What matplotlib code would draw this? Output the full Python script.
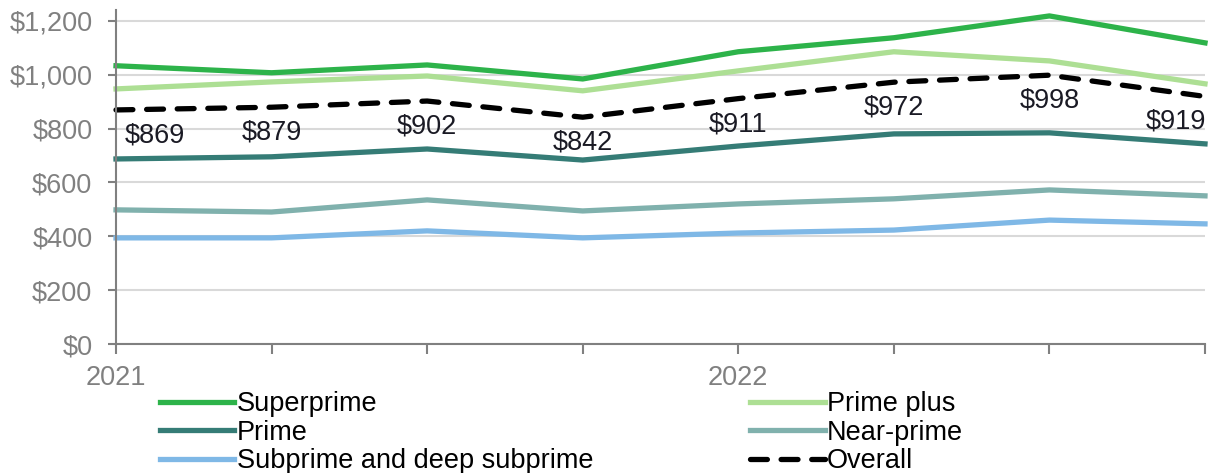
import matplotlib
matplotlib.use("Agg")
import matplotlib.pyplot as plt
import numpy as np

plt.rcParams["font.family"] = ["Liberation Sans", "DejaVu Sans"]

quarters = ["2021", "", "", "", "2022", "", "", ""]
superprime = [1033, 1007, 1036, 984, 1085, 1137, 1218, 1118]
prime_plus = [947, 973, 995, 940, 1014, 1085, 1051, 966]
prime = [687, 695, 724, 683, 735, 780, 784, 743]
near_prime = [498, 490, 535, 494, 520, 539, 572, 550]
subprime = [394, 394, 420, 394, 412, 423, 460, 446]
overall = [869, 879, 902, 842, 911, 972, 998, 919]

GRAY = "#808080"
FS = 19.5

fig = plt.figure(figsize=(12.14, 4.73), dpi=100)
ax = fig.add_axes([116 / 1214, 1 - 344 / 473, (1205 - 116) / 1214, (344 - 10) / 473])

x = np.arange(len(quarters))
lw = 3.8
h_sp, = ax.plot(x, superprime, color="#2db34a", lw=lw, label="Superprime", clip_on=False)
h_pp, = ax.plot(x, prime_plus, color="#addf94", lw=lw, label="Prime plus", clip_on=False)
h_p, = ax.plot(x, prime, color="#357c76", lw=lw, label="Prime", clip_on=False)
h_np, = ax.plot(x, near_prime, color="#80b1ad", lw=lw, label="Near-prime", clip_on=False)
h_sub, = ax.plot(x, subprime, color="#7fb8e6", lw=lw, label="Subprime and deep subprime", clip_on=False)
h_ov, = ax.plot(x, overall, color="black", lw=lw, ls=(0, (3.2, 2.6)), dash_capstyle="round",
                label="Overall", clip_on=False)

for i, v in enumerate(overall):
    ha, dx = "center", 0
    if i == 0:
        ha, dx = "left", 6
    elif i == len(overall) - 1:
        ha, dx = "right", 1
    ax.annotate(f"${v:,}", (x[i], v), xytext=(dx, -9), textcoords="offset points",
                ha=ha, va="top", fontsize=FS, color="#1a1a24")

ax.set_xlim(0, len(quarters) - 1)
ax.set_ylim(0, 1240)
ax.set_yticks(np.arange(0, 1201, 200))
ax.set_yticklabels([f"${v:,}" for v in range(0, 1201, 200)])
ax.set_xticks(x)
ax.set_xticklabels(quarters)
ax.grid(axis="y", color="#d9d9d9", lw=1.5)
ax.set_axisbelow(True)
for s in ["top", "right"]:
    ax.spines[s].set_visible(False)
for s in ["left", "bottom"]:
    ax.spines[s].set_color(GRAY)
    ax.spines[s].set_linewidth(1.5)
ax.tick_params(axis="both", colors=GRAY, labelsize=FS, width=1.5, length=6, direction="out")
ax.tick_params(axis="x", length=7, pad=8)
ax.tick_params(axis="y", pad=11)

handles = [h_sp, h_p, h_sub, h_pp, h_np, h_ov]
fig.legend(handles=handles, labels=[h.get_label() for h in handles], ncol=2,
           loc="upper left", bbox_to_anchor=(160 / 1214, 1 - 391 / 473),
           frameon=False, fontsize=FS, handlelength=2.75, handletextpad=0.08,
           columnspacing=5.8, labelspacing=0.1, borderpad=0, borderaxespad=0)

fig.savefig("out.png", dpi=100)
